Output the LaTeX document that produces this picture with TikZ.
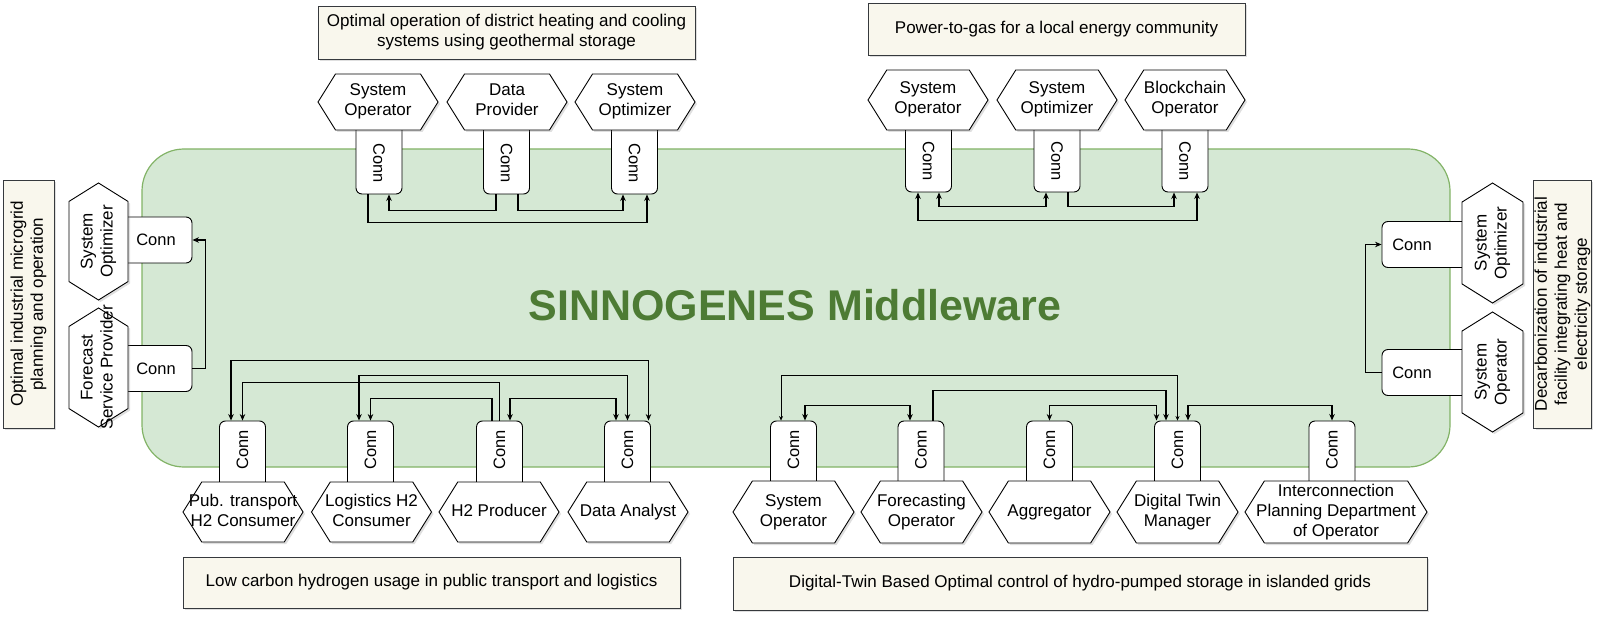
\documentclass[tikz,border=0pt]{standalone}
\usepackage{fontspec}
\setmainfont{Liberation Sans}
\usepackage{graphicx}
\usetikzlibrary{arrows.meta,shapes.symbols,shadows}

\definecolor{mwfill}{HTML}{D5E8D4}
\definecolor{mwline}{HTML}{82B366}
\definecolor{mwtext}{HTML}{4D7B34}
\definecolor{ucfill}{HTML}{F9F7ED}
\definecolor{ucline}{HTML}{36393D}

% connector labels, shifted off the part hidden under the hexagon
\newcommand{\conntop}{\rotatebox{-90}{\hspace{8pt}Conn}}
\newcommand{\connbot}{\rotatebox{90}{\hspace{12pt}Conn}}
% actor names may run over the hexagon edge
\newcommand{\hexlabel}[1]{\makebox[0pt]{\begin{tabular}{@{}c@{}}#1\end{tabular}}}

\tikzset{
  usecase/.style={draw=ucline, fill=ucfill, line width=0.9pt, align=center,
    inner sep=1pt, font=\fontsize{17}{20}\selectfont,
    drop shadow={shadow xshift=2pt, shadow yshift=-2pt, opacity=0.25}},
  actor/.style={signal, signal to=east and west, signal pointer angle=116,
    draw, fill=white, line width=0.9pt, minimum width=120pt, minimum height=58pt,
    inner sep=0pt, font=\fontsize{17}{20}\selectfont,
    drop shadow={shadow xshift=2pt, shadow yshift=-2pt, opacity=0.25}},
  conn/.style={draw, fill=white, rounded corners=6pt, line width=0.9pt,
    inner sep=0pt, font=\fontsize{16.5}{20}\selectfont},
  vconn/.style={conn, minimum width=46pt, minimum height=70pt},
  hconn/.style={conn, minimum height=46pt},
  link/.style={line width=1.1pt},
  thinlink/.style={line width=0.6pt, >={Stealth[length=4.5pt,width=4pt]}}
}

\begin{document}
\begin{tikzpicture}[x=1pt, y=-1pt, >={Stealth[length=6.5pt,width=5.5pt]}]
\useasboundingbox (0,0) rectangle (1600,620);

% middleware
\draw[draw=mwline, fill=mwfill, line width=1.2pt, rounded corners=42pt]
  (142,149) rectangle (1450,467);
\node[text=mwtext, font=\fontsize{43}{50}\selectfont\bfseries] (mw) at (795,305)
  {SINNOGENES Middleware};

% district heating and cooling
\node[vconn] (heat1c) at (379,159) {\conntop};
\node[vconn] (heat2c) at (506.5,159) {\conntop};
\node[vconn] (heat3c) at (634.5,159) {\conntop};
\node[actor, minimum height=56pt] (heat1) at (378,102) {\hexlabel{System\\Operator}};
\node[actor, minimum height=56pt] (heat2) at (507,102) {\hexlabel{Data\\Provider}};
\node[actor, minimum height=56pt] (heat3) at (635,102) {\hexlabel{System\\Optimizer}};
\node[usecase, minimum width=377pt, minimum height=53pt] (heat) at (506.5,32.5)
  {Optimal operation of district heating and cooling\\systems using geothermal storage};
\draw[link,->] ([xshift=-11pt]heat1c.south) -- ++(0,28) -| ([xshift=12.5pt]heat3c.south);
\draw[link,->] ([xshift=-10.5pt]heat2c.south) -- ++(0,16) -| ([xshift=10pt]heat1c.south);
\draw[link,->] ([xshift=11.5pt]heat2c.south) -- ++(0,16) -| ([xshift=-11.5pt]heat3c.south);

% power-to-gas
\node[vconn] (gas1c) at (928.5,157) {\conntop};
\node[vconn] (gas2c) at (1057,157) {\conntop};
\node[vconn] (gas3c) at (1185,157) {\conntop};
\node[actor, minimum height=60pt] (gas1) at (928,100) {\hexlabel{System\\Operator}};
\node[actor, minimum height=60pt] (gas2) at (1057,100) {\hexlabel{System\\Optimizer}};
\node[actor, minimum height=60pt] (gas3) at (1185,100) {\hexlabel{Blockchain\\Operator}};
\node[usecase, minimum width=377pt, minimum height=52pt] (gas) at (1056.5,29)
  {Power-to-gas for a local energy community};
\draw[link,<->] ([xshift=-10.5pt]gas1c.south) -- ++(0,28) -| ([xshift=12pt]gas3c.south);
\draw[link,<->] ([xshift=10.5pt]gas1c.south) -- ++(0,14) -| ([xshift=-11pt]gas2c.south);
\draw[link,->] ([xshift=11pt]gas2c.south) -- ++(0,14) -| ([xshift=-11pt]gas3c.south);

% industrial microgrid
\node[hconn, minimum width=72pt] (grid1c) at (156,240) {Conn};
\node[hconn, minimum width=72pt] (grid2c) at (156,368.5) {Conn};
\node[actor, rotate=90, minimum width=117pt, minimum height=59pt] (grid1) at (98.5,241.5)
  {\hexlabel{System\\Optimizer}};
\node[actor, rotate=90, minimum width=119pt, minimum height=59pt] (grid2) at (98.5,367.5)
  {\hexlabel{Forecast\\Service Provider}};
\node[usecase, rotate=90, minimum width=248pt, minimum height=51pt] (grid) at (28.5,304)
  {Optimal industrial microgrid\\planning and operation};
\draw[link,->] (grid2c.east) -- ++(13,0) |- (grid1c.east);

% decarbonization of industrial facility
\node[hconn, minimum width=88pt] (deco1c) at (1426,244.5) {Conn\kern28pt};
\node[hconn, minimum width=88pt] (deco2c) at (1426,372.5) {Conn\kern28pt};
\node[actor, rotate=90, minimum width=120pt, minimum height=61pt] (deco1) at (1492.5,243)
  {\hexlabel{System\\Optimizer}};
\node[actor, rotate=90, minimum width=120pt, minimum height=61pt] (deco2) at (1492.5,372)
  {\hexlabel{System\\Operator}};
\node[usecase, rotate=90, minimum width=248pt, minimum height=53pt] (deco) at (1562.5,304)
  {Decarbonization of industrial\\facility integrating heat and\\electricity storage};
\draw[link,->] (deco2c.west) -- ++(-16,0) |- (deco1c.west);

% hydrogen in transport
\node[vconn] (hyd1c) at (242.5,456) {\connbot};
\node[vconn] (hyd2c) at (370.5,456) {\connbot};
\node[vconn] (hyd3c) at (499.5,456) {\connbot};
\node[vconn] (hyd4c) at (627.5,456) {\connbot};
\node[actor, minimum height=60pt] (hyd1) at (243,512) {\hexlabel{Pub. transport\\H2 Consumer}};
\node[actor, minimum height=60pt] (hyd2) at (371.5,512) {\hexlabel{Logistics H2\\Consumer}};
\node[actor, minimum height=60pt] (hyd3) at (499,512) {\hexlabel{H2 Producer}};
\node[actor, minimum height=60pt] (hyd4) at (628,512) {\hexlabel{Data Analyst}};
\node[usecase, minimum width=497pt, minimum height=51pt] (hyd) at (431.5,582.5)
  {Low carbon hydrogen usage in public transport and logistics};
\draw[link,<->] ([xshift=-11.5pt]hyd1c.north) -- ++(0,-60) -| ([xshift=21pt]hyd4c.north);
\draw[link,<->] ([xshift=-11.5pt]hyd2c.north) -- ++(0,-45) -| (hyd4c.north);
\draw[link,->] (hyd3c.north) -- ++(0,-38) -| (hyd1c.north);
\draw[link,->] ([xshift=-7.5pt]hyd3c.north) -- ++(0,-22) -| (hyd2c.north);
\draw[link,<->] ([xshift=10.5pt]hyd3c.north) -- ++(0,-22) -| ([xshift=-11.5pt]hyd4c.north);

% digital twin hydro-pumped storage
\node[vconn] (twin1c) at (793.5,456) {\connbot};
\node[vconn] (twin2c) at (921,456) {\connbot};
\node[vconn] (twin3c) at (1049.5,456) {\connbot};
\node[vconn] (twin4c) at (1177.5,456) {\connbot};
\node[vconn] (twin5c) at (1332,456) {\connbot};
\node[actor, minimum width=121pt, minimum height=62pt] (twin1) at (793.5,512) {\hexlabel{System\\Operator}};
\node[actor, minimum width=121pt, minimum height=62pt] (twin2) at (921.5,512) {\hexlabel{Forecasting\\Operator}};
\node[actor, minimum width=121pt, minimum height=62pt] (twin3) at (1049.5,512) {\hexlabel{Aggregator}};
\node[actor, minimum width=121pt, minimum height=62pt] (twin4) at (1177.5,512) {\hexlabel{Digital Twin\\Manager}};
\node[actor, minimum width=182pt, minimum height=62pt] (twin5) at (1336,512)
  {\hexlabel{Interconnection\\Planning Department\\of Operator}};
\node[usecase, minimum width=694pt, minimum height=53pt] (twin) at (1080,583.5)
  {Digital-Twin Based Optimal control of hydro-pumped storage in islanded grids};
\draw[thinlink,<->] ([xshift=-12.5pt]twin1c.north) -- ++(0,-45) -| (twin4c.north);
\draw[link,->] ([xshift=12pt]twin2c.north) -- ++(0,-30) -| ([xshift=-11.5pt]twin4c.north);
\draw[link,<->] ([xshift=11.5pt]twin1c.north) -- ++(0,-15) -| ([xshift=-11pt]twin2c.north);
\draw[link,<->] (twin3c.north) -- ++(0,-15) -| ([xshift=-21pt]twin4c.north);
\draw[link,<->] ([xshift=10.5pt]twin4c.north) -- ++(0,-15) -| (twin5c.north);
\end{tikzpicture}
\end{document}
